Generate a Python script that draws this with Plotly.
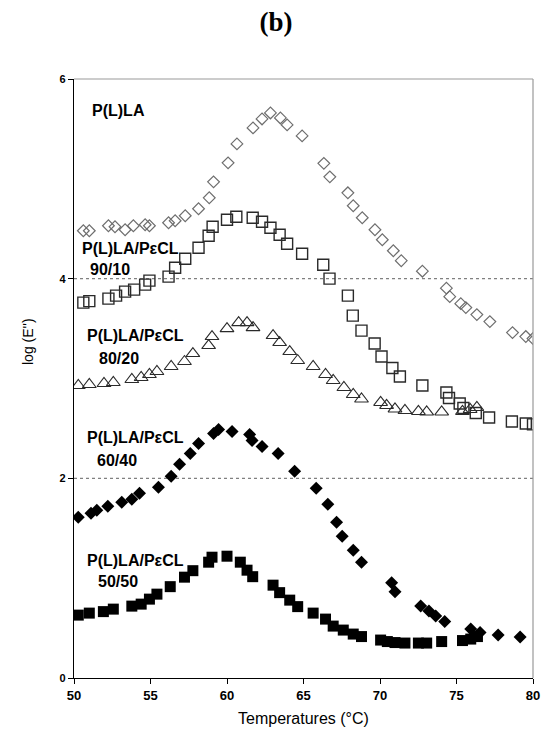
import plotly.graph_objects as go

# Loss modulus log(E'') versus temperature for P(L)LA and P(L)LA/PεCL blends
t_plla = [50.61, 51.0, 52.25, 52.68, 53.34, 53.88, 54.65, 54.93, 56.18, 56.61, 57.27,
          58.14, 58.84, 59.12, 60.07, 60.65, 61.70, 62.29, 62.84, 63.49, 63.93, 64.91,
          66.33, 66.72, 67.90, 68.25, 68.84, 69.67, 70.15, 70.87, 71.39, 72.77, 74.34,
          74.56, 75.28, 75.61, 76.33, 77.18, 78.66, 79.53, 80.0]
e_plla = [4.48, 4.48, 4.53, 4.52, 4.49, 4.53, 4.54, 4.53, 4.56, 4.58, 4.63,
          4.70, 4.81, 4.97, 5.16, 5.35, 5.51, 5.60, 5.66, 5.61, 5.54, 5.43,
          5.155, 5.02, 4.86, 4.73, 4.61, 4.49, 4.39, 4.28, 4.18, 4.075, 3.905,
          3.82, 3.75, 3.71, 3.64, 3.57, 3.46, 3.42, 3.40]

t_90_10 = [50.61, 51.0, 52.25, 52.75, 53.34, 53.93, 54.65, 54.93, 56.18, 56.61, 57.27,
           58.14, 58.80, 59.06, 60.0, 60.61, 61.68, 62.29, 62.84, 63.44, 63.93, 64.91,
           66.29, 66.70, 67.90, 68.22, 68.79, 69.65, 70.10, 70.81, 71.30, 72.77, 74.34,
           74.51, 75.21, 75.45, 76.26, 77.13, 78.62, 79.53, 80.0]
e_90_10 = [3.76, 3.775, 3.80, 3.83, 3.87, 3.89, 3.94, 3.98, 4.02, 4.11, 4.20,
           4.31, 4.43, 4.52, 4.59, 4.62, 4.61, 4.57, 4.51, 4.44, 4.35, 4.25,
           4.14, 4.00, 3.83, 3.63, 3.48, 3.35, 3.22, 3.105, 3.02, 2.93, 2.86,
           2.805, 2.75, 2.705, 2.655, 2.61, 2.57, 2.55, 2.54]

t_80_20 = [50.28, 51.0, 51.96, 52.57, 53.78, 54.39, 54.93, 55.42, 56.35, 57.22, 57.77,
           58.80, 59.02, 60.0, 60.76, 61.31, 61.70, 63.01, 63.44, 64.10, 64.62, 65.63,
           66.44, 66.94, 67.64, 68.25, 68.79, 70.04, 70.43, 70.98, 71.63, 72.51, 73.05,
           74.03, 75.39, 75.89, 76.33]
e_80_20 = [2.93, 2.94, 2.95, 2.96, 2.99, 3.01, 3.04, 3.07, 3.12, 3.17, 3.25,
           3.33, 3.42, 3.50, 3.56, 3.56, 3.51, 3.43, 3.36, 3.27, 3.18, 3.12,
           3.04, 2.98, 2.91, 2.84, 2.795, 2.76, 2.73, 2.695, 2.68, 2.67, 2.665,
           2.665, 2.67, 2.69, 2.71]

t_60_40 = [50.28, 51.11, 51.49, 52.21, 53.12, 53.78, 54.28, 55.52, 56.35, 56.90, 57.60,
           58.14, 59.12, 59.45, 60.33, 61.48, 61.64, 62.29, 63.34, 64.42, 65.83, 66.59,
           67.16, 67.53, 68.25, 68.79, 70.76, 70.98, 72.66, 73.20, 73.64, 74.23, 75.93,
           76.54, 77.72, 79.16]
e_60_40 = [1.61, 1.65, 1.68, 1.72, 1.76, 1.79, 1.85, 1.91, 2.02, 2.14, 2.25,
           2.35, 2.45, 2.49, 2.47, 2.44, 2.38, 2.32, 2.25, 2.07, 1.90, 1.74,
           1.56, 1.42, 1.28, 1.16, 0.955, 0.865, 0.72, 0.67, 0.62, 0.565, 0.49,
           0.455, 0.43, 0.41]

t_50_50 = [50.28, 51.0, 51.92, 52.57, 53.78, 54.39, 54.93, 55.42, 56.29, 57.22, 57.77,
           58.80, 59.02, 60.0, 60.87, 61.31, 61.68, 63.01, 63.44, 64.10, 64.62, 65.63,
           66.44, 66.94, 67.60, 68.25, 68.79, 70.04, 70.48, 70.98, 71.63, 72.51, 73.05,
           74.03, 75.39, 75.93, 76.37]
e_50_50 = [0.63, 0.65, 0.665, 0.69, 0.72, 0.74, 0.79, 0.84, 0.915, 1.01, 1.075,
           1.16, 1.21, 1.22, 1.16, 1.08, 1.015, 0.93, 0.855, 0.78, 0.715, 0.65,
           0.59, 0.52, 0.48, 0.44, 0.415, 0.38, 0.365, 0.355, 0.35, 0.35, 0.35,
           0.365, 0.375, 0.39, 0.415]

x_ticks = [50, 55, 60, 65, 70, 75, 80]
y_ticks = [0, 2, 4, 6]

fig = go.Figure()

fig.add_trace(go.Scatter(
    x=t_plla, y=e_plla, mode="markers", name="P(L)LA",
    marker=dict(symbol="diamond-open", size=9, color="#6e6e6e", line=dict(width=1.2))))
fig.add_trace(go.Scatter(
    x=t_90_10, y=e_90_10, mode="markers", name="90/10",
    marker=dict(symbol="square-open", size=11, color="#2a2a2a", line=dict(width=1.4))))
fig.add_trace(go.Scatter(
    x=t_80_20, y=e_80_20, mode="markers", name="80/20",
    marker=dict(symbol="triangle-up-open", size=12, color="#2a2a2a", line=dict(width=1.1))))
fig.add_trace(go.Scatter(
    x=t_60_40, y=e_60_40, mode="markers", name="60/40",
    marker=dict(symbol="diamond", size=10, color="black")))
fig.add_trace(go.Scatter(
    x=t_50_50, y=e_50_50, mode="markers", name="50/50",
    marker=dict(symbol="square", size=11, color="black")))

# dashed reference lines at the major gridlines
for yv in (2, 4):
    fig.add_shape(type="line", xref="paper", x0=0, x1=1, yref="y", y0=yv, y1=yv,
                  line=dict(color="#808080", width=1.2, dash="dot"), layer="below")

# frame: grey top and right edges
fig.add_shape(type="line", xref="paper", yref="paper", x0=0, x1=1, y0=1, y1=1,
              line=dict(color="#999999", width=1.2))
fig.add_shape(type="line", xref="paper", yref="paper", x0=1, x1=1, y0=0, y1=1,
              line=dict(color="#999999", width=1.2))

label_font = dict(family="Arial, Liberation Sans, sans-serif", size=16, color="black")
labels = [
    (118, 110, "<b>P(L)LA</b>"),
    (130, 249, "<b>P(L)LA/PεCL</b>"),
    (110, 269, "<b>90/10</b>"),
    (135, 335, "<b>P(L)LA/PεCL</b>"),
    (119, 358, "<b>80/20</b>"),
    (135, 437, "<b>P(L)LA/PεCL</b>"),
    (117, 460, "<b>60/40</b>"),
    (135, 560, "<b>P(L)LA/PεCL</b>"),
    (118, 581, "<b>50/50</b>"),
]
# convert pixel positions within the plot area to paper coordinates
L, R, T, B = 74, 533, 79, 678
for px, py, txt in labels:
    fig.add_annotation(x=(px - L) / (R - L), y=(B - py) / (B - T), xref="paper", yref="paper",
                       text=txt, showarrow=False, font=label_font,
                       xanchor="center", yanchor="middle")

fig.add_annotation(x=(28 - L) / (R - L), y=(B - 342) / (B - T), xref="paper", yref="paper",
                   text="log (E'')", showarrow=False, textangle=-90,
                   font=dict(family="Arial, Liberation Sans, sans-serif", size=14, color="black"),
                   xanchor="center", yanchor="middle")

fig.add_annotation(x=0.5, y=(B - 718) / (B - T), xref="paper", yref="paper",
                   text="Temperatures (°C)", showarrow=False,
                   font=dict(family="Arial, Liberation Sans, sans-serif", size=16, color="black"),
                   xanchor="center", yanchor="middle")

fig.update_layout(
    width=544, height=741,
    margin=dict(l=L, r=544 - R, t=T, b=741 - B, autoexpand=False),
    paper_bgcolor="white", plot_bgcolor="white",
    showlegend=False,
    title=dict(text="<b>(b)</b>", x=(276 / 544), xanchor="center", y=1 - 22 / 741, yanchor="middle",
               font=dict(family="Liberation Serif, Times New Roman, serif", size=27, color="black")),
    xaxis=dict(range=[50, 80], tickvals=x_ticks, ticktext=[f"<b>{v}</b>" for v in x_ticks],
               showgrid=False, zeroline=False, showline=True, linecolor="black", linewidth=1.2,
               ticks="outside", ticklen=5, tickcolor="black", automargin=False,
               tickfont=dict(family="Arial, Liberation Sans, sans-serif", size=13, color="black")),
    yaxis=dict(range=[0, 6], tickvals=y_ticks, ticktext=[f"<b>{v}</b>" for v in y_ticks],
               showgrid=False, zeroline=False, showline=True, linecolor="black", linewidth=1.2,
               ticks="outside", ticklen=5, tickcolor="black", automargin=False,
               tickfont=dict(family="Arial, Liberation Sans, sans-serif", size=11, color="black")),
)

fig.write_html("out.html")
